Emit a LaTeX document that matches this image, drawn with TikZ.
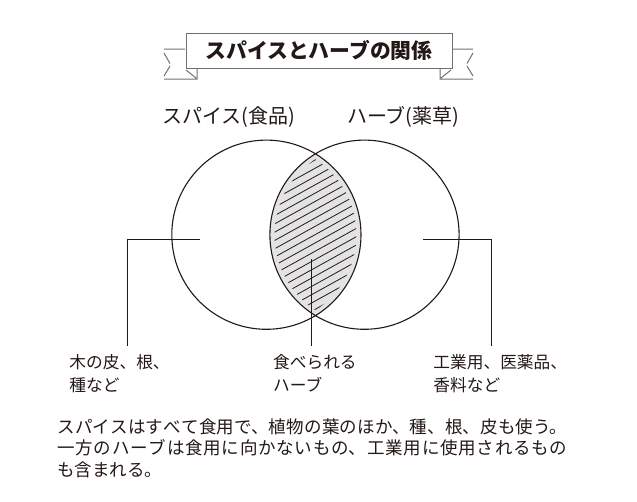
\documentclass[tikz,border=0pt]{standalone}
\usepackage{fontspec}
\setmainfont{Noto Sans CJK JP}
\XeTeXlinebreaklocale "ja"
\XeTeXlinebreakskip=0pt plus 2pt
\definecolor{ink}{HTML}{231815}
\definecolor{ribbon}{HTML}{707070}
\definecolor{lens}{HTML}{E3E3E3}

\begin{document}
\begin{tikzpicture}[x=1pt, y=-1pt, line width=0.9pt, draw=ink,
    ribbonline/.style={draw=ribbon, line width=1pt},
    tag/.style={inner sep=0pt, anchor=north west, align=left, text=ink, font=\fontsize{16.7}{23}\selectfont},
    ring/.style={line width=1.1pt},
    hatch/.style={line width=0.8pt}]
    \useasboundingbox (0,0) rectangle (637,501);

    % ribbon
    \draw[ribbonline] (186,33) rectangle (452,68);
    \draw[ribbonline] (185,49) -- (164,49) (164,53) -- (170,63.5) (170,66) -- (164,76) (164,79) -- (197,79) -- (197,68) (186,70) -- (196,78);
    \draw[ribbonline] (453,49) -- (473,49) (473,53) -- (467,63.5) (467,66) -- (473,76) (473,79) -- (440,79) -- (440,68) (451,70) -- (441,78);
    \node[font=\fontsize{20.8}{24}\selectfont\bfseries, text=ink] (title) at (319,50) {スパイスとハーブの関係};

    % circles
    \coordinate (cs) at (266.4,234.7);
    \coordinate (ch) at (364.5,234.7);
    \begin{scope}
        \clip (cs) circle[radius=94.6pt];
        \fill[lens] (ch) circle[radius=94.6pt];
    \end{scope}
    \begin{scope}
        \clip (cs) circle[radius=90pt];
        \clip (ch) circle[radius=90pt];
        \foreach \k in {-16,...,16}
            \draw[hatch] (250,234.7+\k*8.3+36) -- (380,234.7+\k*8.3-36);
    \end{scope}
    \draw[ring] (cs) circle[radius=94.6pt] (ch) circle[radius=94.6pt];

    \node[font=\fontsize{20}{24}\selectfont, text=ink, anchor=west, inner sep=0pt] (spice) at (161.7,116.7) {スパイス(食品)};
    \node[font=\fontsize{20}{24}\selectfont, text=ink, anchor=west, inner sep=0pt] (herb) at (346.7,116.7) {ハーブ(薬草)};

    % leaders
    \coordinate (sin) at (200,239.3);
    \coordinate (send) at (127.3,346);
    \coordinate (bin) at (311.7,259);
    \coordinate (bend) at (311.7,346);
    \coordinate (hin) at (423,239.3);
    \coordinate (hend) at (491.3,346);
    \draw (sin) -| (send);
    \draw (bin) -- (bend);
    \draw (hin) -| (hend);

    \node[tag] (bark) at (69,353.5) {木の皮、根、\\種など};
    \node[tag] (eaten) at (272.7,353.5) {食べられる\\ハーブ};
    \node[tag] (industry) at (433,353.5) {工業用、医薬品、\\香料など};

    \node[tag, font=\fontsize{17.5}{21.5}\selectfont, text width=510pt, align=justify] (note) at (57,418) {スパイスはすべて食用で、植物の葉のほか、種、根、皮も使う。\linebreak 一方のハーブは食用に向かないもの、工業用に使用されるもの\linebreak も含まれる。};
\end{tikzpicture}
\end{document}
